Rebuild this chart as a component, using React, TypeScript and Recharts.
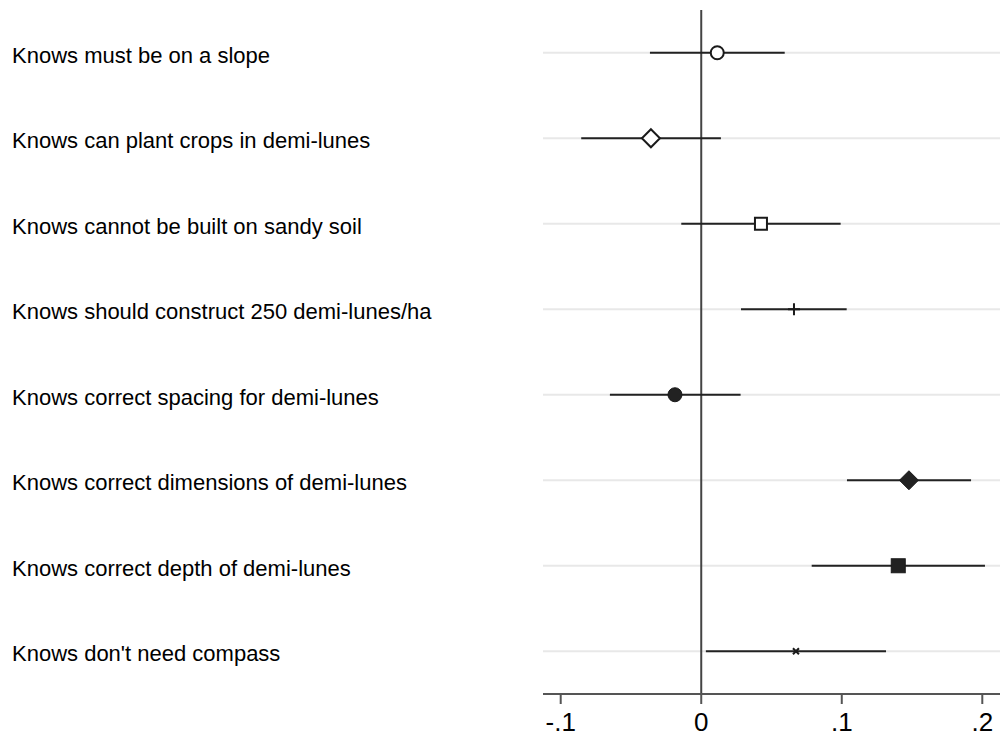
import React from "react";
import {
  ComposedChart,
  Scatter,
  ErrorBar,
  XAxis,
  YAxis,
  ReferenceLine,
} from "recharts";

const labels = [
  "Knows must be on a slope",
  "Knows can plant crops in demi-lunes",
  "Knows cannot be built on sandy soil",
  "Knows should construct 250 demi-lunes/ha",
  "Knows correct spacing for demi-lunes",
  "Knows correct dimensions of demi-lunes",
  "Knows correct depth of demi-lunes",
  "Knows don't need compass",
];
const estimates = [0.0114, -0.0358, 0.0425, 0.066, -0.0187, 0.1478, 0.1402, 0.0674];
const lower = [-0.0365, -0.0854, -0.0142, 0.0283, -0.065, 0.1037, 0.0786, 0.0033];
const upper = [0.0594, 0.014, 0.0992, 0.1035, 0.028, 0.192, 0.2019, 0.1315];
const markers = [
  "circleHollow",
  "diamondHollow",
  "squareHollow",
  "plus",
  "circle",
  "diamond",
  "square",
  "x",
];
const xTicks = [-0.1, 0, 0.1, 0.2];

const data = labels.map((name, i) => ({
  name,
  row: i + 1,
  est: estimates[i],
  err: [estimates[i] - lower[i], upper[i] - estimates[i]],
  marker: markers[i],
}));

const FONT = "'Liberation Sans', Arial, Helvetica, sans-serif";
const INK = "#1a1a1a";

function MarkerShape(props: any) {
  const { cx, cy, payload } = props;
  if (cx == null || cy == null) return null;
  switch (payload.marker) {
    case "circleHollow":
      return <circle cx={cx} cy={cy} r={6.5} fill="#fff" stroke={INK} strokeWidth={2} />;
    case "diamondHollow":
      return (
        <polygon
          points={`${cx},${cy - 9} ${cx + 9},${cy} ${cx},${cy + 9} ${cx - 9},${cy}`}
          fill="#fff"
          stroke={INK}
          strokeWidth={2}
        />
      );
    case "squareHollow":
      return <rect x={cx - 6} y={cy - 6} width={12} height={12} fill="#fff" stroke={INK} strokeWidth={2} />;
    case "plus":
      return (
        <path d={`M${cx - 6},${cy}H${cx + 6}M${cx},${cy - 6}V${cy + 6}`} stroke={INK} strokeWidth={2} />
      );
    case "circle":
      return <circle cx={cx} cy={cy} r={7} fill="#222" stroke={INK} strokeWidth={1} />;
    case "diamond":
      return (
        <polygon
          points={`${cx},${cy - 9.5} ${cx + 9.5},${cy} ${cx},${cy + 9.5} ${cx - 9.5},${cy}`}
          fill="#222"
          stroke={INK}
          strokeWidth={1}
        />
      );
    case "square":
      return <rect x={cx - 7} y={cy - 7} width={14} height={14} fill="#222" stroke={INK} strokeWidth={1} />;
    default:
      return (
        <path
          d={`M${cx - 3},${cy - 3}L${cx + 3},${cy + 3}M${cx - 3},${cy + 3}L${cx + 3},${cy - 3}`}
          stroke={INK}
          strokeWidth={2}
        />
      );
  }
}

function LabelTick(props: any) {
  const { y, payload } = props;
  const label = labels[payload.value - 1];
  if (!label) return null;
  return (
    <text x={12} y={y} dy="0.45em" textAnchor="start" fontSize={22} fill="#000" fontFamily={FONT}>
      {label}
    </text>
  );
}

export default function App() {
  return (
    <div style={{ position: "absolute", left: 0, top: 0, background: "#fff" }}>
      <ComposedChart
        width={1000}
        height={740}
        data={data}
        margin={{ top: 10, right: 0, bottom: 0, left: 0 }}
      >
        {data.map((d) => (
          <ReferenceLine key={d.row} y={d.row} stroke="#e8e8e8" strokeWidth={2} />
        ))}
        <XAxis
          type="number"
          dataKey="est"
          domain={[-0.1126, 0.2126]}
          ticks={xTicks}
          allowDataOverflow
          height={46}
          stroke="#555"
          strokeWidth={2}
          tickSize={10}
          tickMargin={9}
          tick={{ fill: "#000", fontSize: 26, fontFamily: FONT }}
          tickFormatter={(v: number) => (v === 0 ? "0" : v.toFixed(1).replace("0.", "."))}
        />
        <YAxis
          type="number"
          dataKey="row"
          domain={[0.5, 8.5]}
          ticks={[1, 2, 3, 4, 5, 6, 7, 8]}
          reversed
          width={543}
          axisLine={false}
          tickLine={false}
          tick={<LabelTick />}
        />
        <ReferenceLine x={0} stroke="#444" strokeWidth={2} />
        <Scatter dataKey="est" shape={<MarkerShape />} isAnimationActive={false}>
          <ErrorBar dataKey="err" direction="x" width={0} stroke="#222" strokeWidth={2} />
        </Scatter>
      </ComposedChart>
    </div>
  );
}
